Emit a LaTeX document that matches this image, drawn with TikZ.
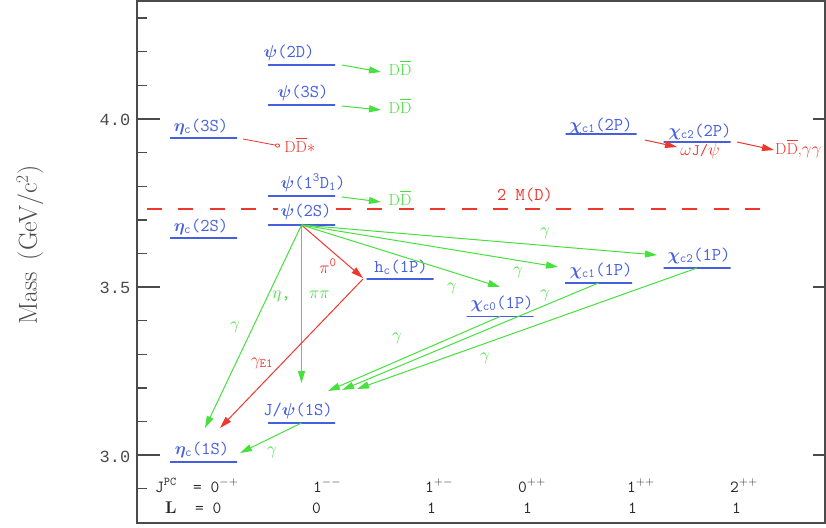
\documentclass[tikz,border=0pt]{standalone}
\usepackage{fontspec}
\usepackage{amsmath}
\usetikzlibrary{arrows.meta}
\newfontfamily\tickfont{Liberation Mono}
\definecolor{lvblue}{RGB}{70,95,225}
\definecolor{ggreen}{RGB}{70,225,60}
\definecolor{rred}{RGB}{238,55,45}
\definecolor{axgray}{RGB}{75,75,75}
\newcommand{\DDb}{$\mathrm{D}\overline{\mathrm{D}}$}
\newcommand{\tsb}[1]{_{\texttt{#1}}}
\newcommand{\heavy}{\addfontfeatures{FakeBold=1.2}}
\tikzset{
 lvl/.style={draw=lvblue, line width=1.8pt, minimum width=67pt, minimum height=0pt, inner sep=0pt, outer sep=0pt},
 lab/.style={text=lvblue, font=\fontsize{18}{20}\selectfont\ttfamily\heavy\boldmath, inner sep=0pt, anchor=base},
 gtxt/.style={text=ggreen, font=\fontsize{18}{20}\selectfont\ttfamily\heavy, inner sep=0pt},
 rtxt/.style={text=rred, font=\fontsize{18}{20}\selectfont\ttfamily\heavy, inner sep=0pt},
 ddtxt/.style={font=\fontsize{16}{18}\selectfont\heavy, inner sep=0pt, anchor=base},
 btxt/.style={text=black!85, font=\fontsize{17}{19}\selectfont\ttfamily\heavy, inner sep=0pt, anchor=base west},
 garr/.style={draw=ggreen, line width=1pt, -{Triangle[length=12pt,width=7pt]}},
 rarr/.style={draw=rred, line width=1pt, -{Triangle[length=12pt,width=7pt]}},
 axtick/.style={draw=axgray, line width=1.4pt},
 ticklab/.style={text=axgray, font=\fontsize{17}{19}\selectfont\tickfont, inner sep=0pt},
}
\begin{document}
\begin{tikzpicture}[x=1pt,y=-1pt]
\useasboundingbox (0,0) rectangle (826,527);
\fill[white] (0,0) rectangle (826,527);
% frame and ticks
\draw[axgray, line width=1.6pt] (137,1) rectangle (825,523);
\foreach \y in {119,287,455} {\draw[axtick] (137,\y) -- (160,\y); \draw[axtick] (813,\y) -- (825,\y);}
\foreach \k in {-1,1,2,3,4,6,7,8,9,11,12,13} {\draw[axtick] (137,{455-33.6*\k}) -- (147,{455-33.6*\k});}
\node[ticklab] (t40) at (115,120) {4.0};
\node[ticklab] (t35) at (115,288) {3.5};
\node[ticklab] (t30) at (115,457) {3.0};
\node[rotate=90, text=axgray, font=\fontsize{26}{28}\selectfont] (ylab) at (30,245) {Mass\hspace{0.45em}(GeV/c$^{2}$)};

% threshold
\coordinate (dashL) at (137,209);
\coordinate (dashR) at (760,209);
\draw[rred, line width=1.2pt, dash pattern=on 15pt off 16.5pt, dash phase=22pt] (dashL) -- (dashR);
\node[rtxt, anchor=base] (thr) at (525,200) {2 M(D)};

% levels
\node[lvl] (etac1S) at (203.5,462) {};
\node[lvl] (jpsi) at (301.5,423) {};
\node[lvl] (etac2S) at (203.5,238) {};
\node[lvl] (psi2S) at (301.5,225) {};
\node[lvl] (psiD1) at (301.5,196) {};
\node[lvl] (etac3S) at (203.5,138) {};
\node[lvl] (psi3S) at (301.5,105) {};
\node[lvl] (psi2D) at (301.5,65) {};
\node[lvl] (hc) at (400,279) {};
\node[lvl] (chi0) at (500,316.5) {};
\node[lvl] (chi1) at (598.5,283) {};
\node[lvl] (chi2) at (697,268) {};
\node[lvl, minimum width=71pt] (chi1b) at (601,134) {};
\node[lvl] (chi2b) at (697,142) {};

% level labels
\node[lab] (psi2Dl) at (289,57) {$\psi$(2D)};
\node[lab] (psi3Sl) at (303,97) {$\psi$(3S)};
\node[lab] (psiD1l) at (313,188) {$\psi$(1$^{\texttt{3}}$D$\tsb{1}$)};
\node[lab, fill=white, inner xsep=3pt] (psi2Sl) at (306,216) {$\psi$(2S)};
\node[lab] (etac3Sl) at (201,131) {$\eta\tsb{c}$(3S)};
\node[lab] (etac2Sl) at (201,231) {$\eta\tsb{c}$(2S)};
\node[lab] (etac1Sl) at (202,454) {$\eta\tsb{c}$(1S)};
\node[lab] (jpsil) at (298,415) {J/$\psi$(1S)};
\node[lab] (hcl) at (401,272) {h$\tsb{c}$(1P)};
\node[lab] (chi0l) at (502,308) {$\chi\tsb{c0}$(1P)};
\node[lab] (chi1l) at (601,275) {$\chi\tsb{c1}$(1P)};
\node[lab] (chi2l) at (699,260) {$\chi\tsb{c2}$(1P)};
\node[lab] (chi1bl) at (601,130) {$\chi\tsb{c1}$(2P)};
\node[lab] (chi2bl) at (700,136) {$\chi\tsb{c2}$(2P)};

% open-charm decays
\node[ddtxt, text=ggreen] (dd1) at (400,75) {\DDb};
\node[ddtxt, text=ggreen] (dd2) at (400,113) {\DDb};
\node[ddtxt, text=ggreen] (dd3) at (400,205) {\DDb};
\node[ddtxt, text=rred] (ddst) at (300,152) {\DDb$\ast$};
\node[rtxt, anchor=base, font=\fontsize{16}{18}\selectfont\ttfamily\heavy] (wjpsi) at (700,155) {$\omega$J/$\psi$};
\node[ddtxt, text=rred, anchor=base west] (ddgg) at (775,154) {\DDb,$\gamma\gamma$};

\coordinate (s1) at (342,65);  \coordinate (e1) at (381,72);
\coordinate (s2) at (342,106); \coordinate (e2) at (381,110);
\coordinate (s3) at (342,197); \coordinate (e3) at (381,202);
\draw[garr] (s1) -- (e1);
\draw[garr] (s2) -- (e2);
\draw[garr] (s3) -- (e3);
\coordinate (s4) at (243,139); \coordinate (e4) at (280,146);
\draw[rred, line width=0.8pt, -{Circle[open,length=5pt,width=4pt]}] (s4) -- (e4);
\coordinate (s5) at (645,140); \coordinate (e5) at (677,147);
\draw[rarr] (s5) -- (e5);
\coordinate (s6) at (737,142); \coordinate (e6) at (774,150);
\draw[rarr] (s6) -- (e6);

% radiative and hadronic transitions
\coordinate (tEg) at (205,428);
\coordinate (tEr) at (220,428);
\coordinate (tJv) at (301.5,383);
\coordinate (tHc) at (363,278);
\coordinate (tC0) at (500,287);
\coordinate (tC1) at (558,267);
\coordinate (tC2) at (657,255);
\coordinate (tJ0) at (328,391);
\coordinate (tJ1) at (342,390);
\coordinate (tJ2) at (357,389);
\coordinate (tEj) at (240,453);
\coordinate (hcs) at (363,279);

\draw[garr] (psi2S.center) -- (tEg);
\draw[garr] (psi2S.center) -- (tJv);
\draw[rarr] (psi2S.center) -- (tHc);
\draw[rarr] (hcs) -- (tEr);
\draw[garr] (psi2S.center) -- (tC0);
\draw[garr] (psi2S.center) -- (tC1);
\draw[garr] (psi2S.center) -- (tC2);
\draw[garr] (chi0.center) -- (tJ0);
\draw[garr] (chi1.center) -- (tJ1);
\draw[garr] (chi2.center) -- (tJ2);
\draw[garr] (jpsi.center) -- (tEj);

\node[gtxt] (g1) at (235,327) {$\gamma$};
\node[gtxt] (g2) at (518,272) {$\gamma$};
\node[gtxt] (g3) at (452,288) {$\gamma$};
\node[gtxt] (g4) at (545,233) {$\gamma$};
\node[gtxt] (g5) at (545,295) {$\gamma$};
\node[gtxt] (g6) at (397,338) {$\gamma$};
\node[gtxt] (g7) at (485,358) {$\gamma$};
\node[gtxt] (g8) at (272,452) {$\gamma$};
\node[gtxt] (etapipi) at (301,296) {$\eta$,\ \ $\pi\pi$};
\node[rtxt] (pi0) at (328,266) {$\pi^{\texttt{0}}$};
\node[rtxt] (gE1) at (262,363) {$\gamma\tsb{E1}$};

% quantum numbers
\node[btxt] (jpc) at (155,492) {J\textsuperscript{PC}};
\node[btxt] (jpc0) at (193,492) {= 0$^{-+}$};
\node[btxt] (ll) at (165,513) {\rmfamily\bfseries L};
\node[btxt] (ll0) at (195,513) {= 0};
\node[btxt] (q2) at (313,492) {1$^{--}$};
\node[btxt] (q3) at (425,492) {1$^{+-}$};
\node[btxt] (q4) at (518,492) {0$^{++}$};
\node[btxt] (q5) at (627,492) {1$^{++}$};
\node[btxt] (q6) at (730,492) {2$^{++}$};
\node[btxt] (l2) at (312,513) {0};
\node[btxt] (l3) at (427,513) {1};
\node[btxt] (l4) at (523,513) {1};
\node[btxt] (l5) at (628,513) {1};
\node[btxt] (l6) at (732,513) {1};
\end{tikzpicture}
\end{document}
